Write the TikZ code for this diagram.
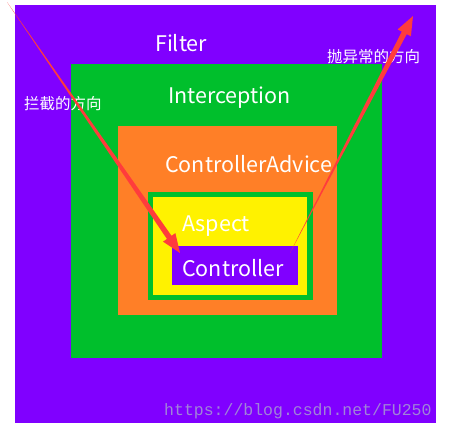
\documentclass[tikz,border=0pt]{standalone}
\usepackage{fontspec}
\setmainfont{Noto Sans CJK SC}
\newfontfamily\urlfont{Liberation Mono}
\usetikzlibrary{calc}
\definecolor{filterpurple}{HTML}{8000FF}
\definecolor{intergreen}{HTML}{00BF2C}
\definecolor{adviceorange}{HTML}{FF7F27}
\definecolor{aspectyellow}{HTML}{FFF200}
\definecolor{arrowred}{HTML}{FF3C3C}
\definecolor{markgray}{HTML}{A084D8}
\tikzset{
  layer/.style={font=\fontsize{21.5}{22}\selectfont, text=white, anchor=base west, inner sep=0pt},
  direction/.style={font=\fontsize{15.5}{16}\selectfont, text=white, anchor=west, inner sep=0pt}
}
\newcommand\taperarrow[2]{%
  \path ($(#2)!19pt!(#1)$) coordinate (neck);
  \fill[arrowred] (#1) -- ($(neck)!2.8pt!90:(#2)$) -- ($(neck)!7.5pt!90:(#2)$) -- (#2)
    -- ($(neck)!7.5pt!-90:(#2)$) -- ($(neck)!2.8pt!-90:(#2)$) -- cycle;
}

\begin{document}
\begin{tikzpicture}[x=1pt,y=-1pt]
        \useasboundingbox (0,0) rectangle (468,440);

        %nested layers, outside in
        \foreach \col/\xa/\ya/\xb/\yb in {filterpurple/15/5/436/423,intergreen/71/64/382/358,adviceorange/118/126/337/315,intergreen/148/192/313/300,aspectyellow/153/197/307/295,filterpurple/172/246/298/285}{
          \fill[\col] (\xa,\ya) rectangle (\xb,\yb);
        }

        %layer names
        \foreach \name/\txt/\lx/\ly in {filter/Filter/155/51,inter/Interception/168/103,advice/ControllerAdvice/165/172,aspect/Aspect/182/231,ctrl/Controller/182/276}{
          \node[layer] (\name) at (\lx,\ly) {\txt};
        }

        %directions
        \node[direction] (catchdir) at (24,104) {拦截的方向};
        \node[direction] (throwdir) at (327,57) {抛异常的方向};

        \coordinate (catchstart) at (7,2);
        \coordinate (catchend) at (180,253);
        \coordinate (throwstart) at (290,253);
        \coordinate (throwend) at (413,16);
        \taperarrow{catchstart}{catchend}
        \taperarrow{throwstart}{throwend}

        %watermark
        \node[font=\urlfont\fontsize{16.5}{17}\selectfont, text=markgray, anchor=west, inner sep=0pt] (mark) at (164,411) {https://blog.csdn.net/FU250};
      \end{tikzpicture}
\end{document}
